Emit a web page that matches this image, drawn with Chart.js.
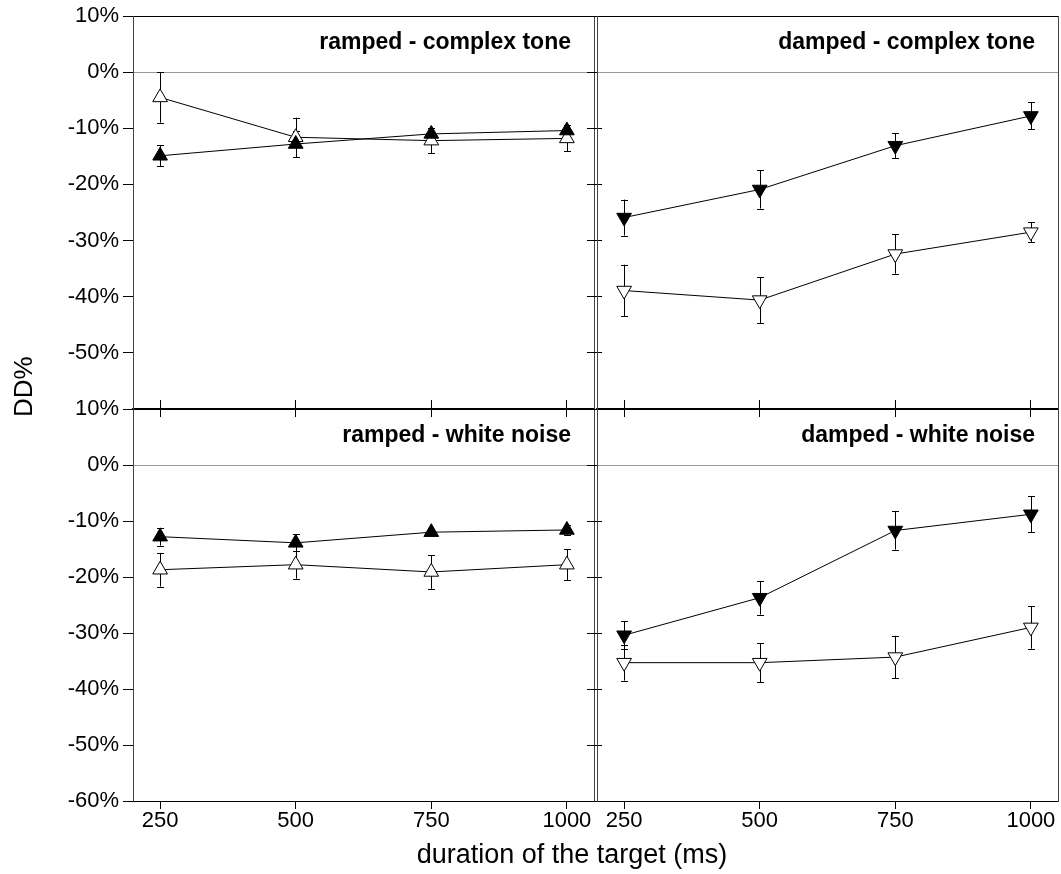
<!DOCTYPE html>
<html>
<head>
<meta charset="utf-8">
<script src="https://cdn.jsdelivr.net/npm/chart.js@4.4.1/dist/chart.umd.min.js"></script>
<style>
  body { margin: 0; background: #fff; overflow: hidden; }
  #wrap { position: relative; width: 1061px; height: 874px; }
  #wrap canvas { position: absolute; left: 0; top: 0; width: 1061px; height: 874px; }
</style>
</head>
<body>
<div id="wrap">
  <canvas id="c1" width="1061" height="874"></canvas>
  <canvas id="c2" width="1061" height="874"></canvas>
  <canvas id="c3" width="1061" height="874"></canvas>
  <canvas id="c4" width="1061" height="874"></canvas>
</div>
<script>
const durations = [250, 500, 750, 1000];
const xTickValues = [250, 500, 750, 1000];
const yTickValues = [10, 0, -10, -20, -30, -40, -50, -60];

// ramped - complex tone
const rampedToneFilled = [-14.9, -12.8, -11.0, -10.4];
const rampedToneFilledErr = [1.9, 2.3, 1.1, 1.0];
const rampedToneOpen = [-4.5, -11.6, -12.2, -11.8];
const rampedToneOpenErr = [4.5, 3.5, 2.2, 2.3];

// damped - complex tone
const dampedToneFilled = [-25.9, -20.9, -13.1, -7.8];
const dampedToneFilledErr = [3.2, 3.4, 2.2, 2.4];
const dampedToneOpen = [-38.9, -40.6, -32.4, -28.5];
const dampedToneOpenErr = [4.6, 4.1, 3.5, 1.8];

// ramped - white noise
const rampedNoiseFilled = [-12.8, -13.9, -12.0, -11.6];
const rampedNoiseFilledErr = [1.6, 1.5, 0.5, 0.9];
const rampedNoiseOpen = [-18.7, -17.8, -19.1, -17.8];
const rampedNoiseOpenErr = [3.0, 2.5, 3.0, 2.8];

// damped - white noise
const dampedNoiseFilled = [-30.4, -23.7, -11.7, -8.8];
const dampedNoiseFilledErr = [2.5, 3.0, 3.4, 3.2];
const dampedNoiseOpen = [-35.3, -35.3, -34.3, -29.0];
const dampedNoiseOpenErr = [3.2, 3.5, 3.8, 3.8];

const FONT = "'Liberation Sans', Arial, sans-serif";
const cols = { left: { L: 133, R: 594 }, right: { L: 597, R: 1058 } };
const rows = { top: { T: 16, B: 409 }, bottom: { T: 409, B: 801 } };

// vertical error bars under the markers
const errorBars = {
  id: 'errorBars',
  beforeDatasetsDraw(chart) {
    const ctx = chart.ctx;
    const yScale = chart.scales.y;
    ctx.save();
    ctx.strokeStyle = '#000';
    ctx.lineWidth = 1;
    chart.data.datasets.forEach((ds, i) => {
      chart.getDatasetMeta(i).data.forEach((pt, j) => {
        const v = ds.data[j].y, e = ds.errors[j];
        const top = yScale.getPixelForValue(v + e);
        const bot = yScale.getPixelForValue(v - e);
        const x = Math.round(pt.x) + 0.5;
        ctx.beginPath();
        ctx.moveTo(x, top); ctx.lineTo(x, bot);
        ctx.moveTo(x - 3.5, Math.round(top) + 0.5); ctx.lineTo(x + 3.5, Math.round(top) + 0.5);
        ctx.moveTo(x - 3.5, Math.round(bot) + 0.5); ctx.lineTo(x + 3.5, Math.round(bot) + 0.5);
        ctx.stroke();
      });
    });
    ctx.restore();
  }
};

// panel caption in the upper right corner
const panelTitle = {
  id: 'panelTitle',
  afterDraw(chart, args, opts) {
    const { ctx, chartArea } = chart;
    ctx.save();
    ctx.font = 'bold 23px ' + FONT;
    ctx.fillStyle = '#000';
    ctx.textAlign = 'right';
    ctx.textBaseline = 'alphabetic';
    ctx.fillText(opts.text, chartArea.right - 23, chartArea.top + 33);
    ctx.restore();
  }
};

// shared axis titles
const axisTitles = {
  id: 'axisTitles',
  afterDraw(chart) {
    const ctx = chart.ctx;
    ctx.save();
    ctx.fillStyle = '#000';
    ctx.font = '27px ' + FONT;
    ctx.textAlign = 'center';
    ctx.textBaseline = 'alphabetic';
    ctx.fillText('duration of the target (ms)', 572, 863);
    ctx.translate(32, 417);
    ctx.rotate(-Math.PI / 2);
    ctx.font = '26px ' + FONT;
    ctx.textAlign = 'left';
    ctx.fillText('DD%', 0, 0);
    ctx.restore();
  }
};

function series(values, errs, filled, up) {
  return {
    data: durations.map((x, i) => ({ x: x, y: values[i] })),
    errors: errs,
    borderColor: '#000',
    borderWidth: 1,
    tension: 0,
    fill: false,
    pointStyle: 'triangle',
    pointRotation: up ? 0 : 180,
    pointRadius: 8.5,
    pointHoverRadius: 8.5,
    pointBackgroundColor: filled ? '#000' : '#fff',
    pointBorderColor: '#000',
    pointBorderWidth: 1
  };
}

// keep the plot area fixed: no extra room for overhanging end labels
const noOverhang = (s) => { s.paddingLeft = 0; s.paddingRight = 0; s.paddingTop = 0; s.paddingBottom = 0; };

function makePanel(id, title, col, row, filled, filledErr, open, openErr, up, extraPlugins) {
  const c = cols[col], r = rows[row];
  const setTicks = (list) => (s) => { s.ticks = list.map(v => ({ value: v })); };
  const tickFont = { family: FONT, size: 22 };
  new Chart(document.getElementById(id), {
    type: 'line',
    data: {
      datasets: [
        series(filled, filledErr, true, up),
        series(open, openErr, false, up)
      ]
    },
    options: {
      responsive: false,
      maintainAspectRatio: false,
      animation: false,
      events: [],
      layout: { padding: 0, autoPadding: false },
      plugins: {
        legend: { display: false },
        tooltip: { enabled: false },
        panelTitle: { text: title }
      },
      scales: {
        x: {
          type: 'linear', position: 'bottom', min: 200, max: 1050,
          afterBuildTicks: setTicks(xTickValues),
          afterFit: (s) => { s.height = s.chart.height - r.B; noOverhang(s); },
          grid: { drawOnChartArea: false, tickLength: 8, color: '#000' },
          border: { color: '#000', width: row === 'top' ? 2 : 1 },
          ticks: {
            display: row === 'bottom', font: tickFont, color: '#000', padding: -1, maxRotation: 0,
            callback: (v) => String(v)
          }
        },
        xTop: {
          type: 'linear', position: 'top', min: 200, max: 1050,
          afterBuildTicks: setTicks(xTickValues),
          afterFit: (s) => { s.height = r.T; noOverhang(s); },
          grid: { drawOnChartArea: false, drawTicks: row === 'bottom', tickLength: 9, color: '#000' },
          border: { color: '#000', width: 1 },
          ticks: { display: false }
        },
        y: {
          type: 'linear', position: 'left', min: -60, max: 10,
          afterBuildTicks: setTicks(yTickValues),
          afterFit: (s) => { s.width = c.L; noOverhang(s); },
          grid: {
            color: (ctx) => (ctx.tick && ctx.tick.value === 0) ? '#999' : 'rgba(0,0,0,0)',
            tickColor: '#000',
            tickLength: 10
          },
          border: { color: '#444', width: 1 },
          ticks: {
            display: col === 'left',
            font: tickFont,
            color: '#000',
            padding: 4,
            callback: (v) => (row === 'top' && v === -60) ? '' : v + '%'
          }
        },
        yRight: {
          type: 'linear', position: 'right', min: -60, max: 10,
          afterBuildTicks: setTicks(yTickValues),
          afterFit: (s) => { s.width = s.chart.width - c.R; noOverhang(s); },
          grid: { drawOnChartArea: false, drawTicks: col === 'left', tickLength: 8, color: '#000' },
          border: { color: '#444', width: 1 },
          ticks: { display: false }
        }
      }
    },
    plugins: [errorBars, panelTitle].concat(extraPlugins || [])
  });
}

makePanel('c1', 'ramped - complex tone', 'left', 'top',
  rampedToneFilled, rampedToneFilledErr, rampedToneOpen, rampedToneOpenErr, true);
makePanel('c2', 'damped - complex tone', 'right', 'top',
  dampedToneFilled, dampedToneFilledErr, dampedToneOpen, dampedToneOpenErr, false);
makePanel('c3', 'ramped - white noise', 'left', 'bottom',
  rampedNoiseFilled, rampedNoiseFilledErr, rampedNoiseOpen, rampedNoiseOpenErr, true, [axisTitles]);
makePanel('c4', 'damped - white noise', 'right', 'bottom',
  dampedNoiseFilled, dampedNoiseFilledErr, dampedNoiseOpen, dampedNoiseOpenErr, false);
</script>
</body>
</html>
